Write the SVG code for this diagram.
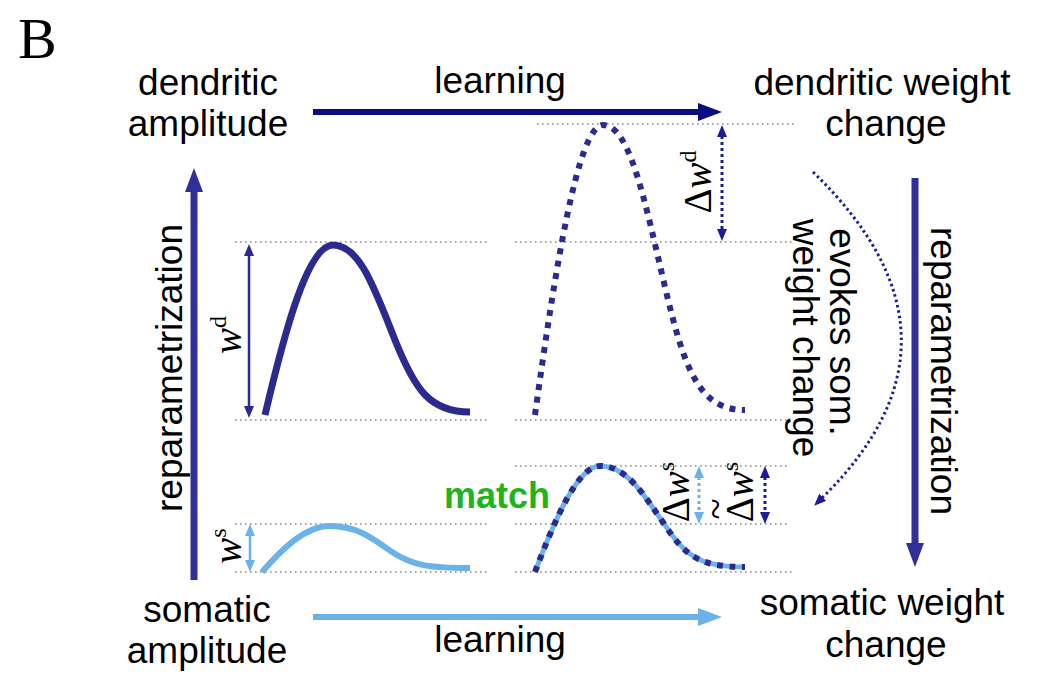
<svg xmlns="http://www.w3.org/2000/svg" width="1043" height="682" viewBox="0 0 1043 682">
<style>
.lbl{font-family:"Liberation Sans",Arial,sans-serif;font-size:37px;fill:#000;text-anchor:middle}
.math{font-family:"Liberation Serif","Times New Roman",serif;font-size:39px;fill:#000;text-anchor:middle}
.it{font-style:italic}
.guide{stroke:#8a8a8a;stroke-width:1.6;stroke-dasharray:1.6 3.4;fill:none}
.curve{fill:none;stroke-linecap:butt;stroke-linejoin:round}
</style>
<defs>
<marker id="hNavy" markerUnits="userSpaceOnUse" viewBox="0 0 24 18" refX="2" refY="9" markerWidth="24" markerHeight="18" orient="auto"><path d="M0,0 L24,9 L0,18 z" fill="#0b0b80"/></marker>
<marker id="hLight" markerUnits="userSpaceOnUse" viewBox="0 0 24 18" refX="2" refY="9" markerWidth="24" markerHeight="18" orient="auto"><path d="M0,0 L24,9 L0,18 z" fill="#6ab2e8"/></marker>
<marker id="hMid" markerUnits="userSpaceOnUse" viewBox="0 0 24 18" refX="2" refY="9" markerWidth="24" markerHeight="18" orient="auto"><path d="M0,0 L24,9 L0,18 z" fill="#30309a"/></marker>
<marker id="sMid" markerUnits="userSpaceOnUse" viewBox="0 0 12 10" refX="1" refY="5" markerWidth="12" markerHeight="10" orient="auto-start-reverse"><path d="M0,0 L12,5 L0,10 z" fill="#2b2b8f"/></marker>
<marker id="sNavy" markerUnits="userSpaceOnUse" viewBox="0 0 12 10" refX="1" refY="5" markerWidth="12" markerHeight="10" orient="auto-start-reverse"><path d="M0,0 L12,5 L0,10 z" fill="#1c1c96"/></marker>
<marker id="sLight" markerUnits="userSpaceOnUse" viewBox="0 0 12 10" refX="1" refY="5" markerWidth="12" markerHeight="10" orient="auto-start-reverse"><path d="M0,0 L12,5 L0,10 z" fill="#6ab2e8"/></marker>
</defs>
<rect width="1043" height="682" fill="#fff"/>

<text x="18" y="58" font-family="Liberation Serif,'Times New Roman',serif" font-size="58" fill="#000">B</text>

<g id="guides">
<line class="guide" x1="537" y1="124" x2="795" y2="124"/>
<line class="guide" x1="235" y1="242" x2="490" y2="242"/>
<line class="guide" x1="515" y1="242" x2="795" y2="242"/>
<line class="guide" x1="235" y1="420" x2="490" y2="420"/>
<line class="guide" x1="515" y1="420" x2="790" y2="420"/>
<line class="guide" x1="515" y1="466" x2="790" y2="466"/>
<line class="guide" x1="235" y1="524" x2="490" y2="524"/>
<line class="guide" x1="515" y1="524" x2="790" y2="524"/>
<line class="guide" x1="235" y1="572" x2="490" y2="572"/>
<line class="guide" x1="515" y1="572" x2="795" y2="572"/>
</g>

<g id="node-dendritic-amplitude">
<text class="lbl" x="208" y="95">dendritic</text>
<text class="lbl" x="208" y="136">amplitude</text>
</g>
<g id="node-dendritic-weight-change">
<text class="lbl" x="882" y="95">dendritic weight</text>
<text class="lbl" x="886" y="136">change</text>
</g>
<g id="node-somatic-amplitude">
<text class="lbl" x="207" y="622">somatic</text>
<text class="lbl" x="207" y="663">amplitude</text>
</g>
<g id="node-somatic-weight-change">
<text class="lbl" x="882" y="615">somatic weight</text>
<text class="lbl" x="886" y="657">change</text>
</g>

<g id="curve-dendritic">
<path class="curve" stroke="#2b2b8f" stroke-width="7" d="M265,415 C285,330 308,245 333,245 C360,245 375,290 395,340 C415,390 430,412 470,412"/>
<line x1="249" y1="255" x2="249" y2="407" stroke="#2b2b8f" stroke-width="2.5" marker-start="url(#sMid)" marker-end="url(#sMid)"/>
<text class="math" transform="translate(241,335) rotate(-90)"><tspan class="it">w</tspan><tspan dy="-15" font-size="24">d</tspan></text>
</g>

<g id="curve-somatic">
<path class="curve" stroke="#6ab2e8" stroke-width="6" d="M262,572 C282,549 305,526 330,526 C357,526 372,538 392,552 C412,565 427,568 470,568"/>
<line x1="250" y1="535" x2="250" y2="561" stroke="#6ab2e8" stroke-width="2.5" marker-start="url(#sLight)" marker-end="url(#sLight)"/>
<text class="math" transform="translate(241,546) rotate(-90)"><tspan class="it">w</tspan><tspan dy="-15" font-size="24">s</tspan></text>
</g>

<g id="curve-dendritic-change">
<path class="curve" stroke="#2b2b8f" stroke-width="6" stroke-dasharray="6 6.5" d="M535,415 C555,270 578,125 603,125 C630,125 645,202 665,287 C685,372 700,410 745,410"/>
<line x1="722" y1="136" x2="722" y2="230" stroke="#1c1c96" stroke-width="3" stroke-dasharray="3 3" marker-start="url(#sNavy)" marker-end="url(#sNavy)"/>
<text class="math" transform="translate(711,182) rotate(-90)">Δ<tspan class="it">w</tspan><tspan dy="-15" font-size="24">d</tspan></text>
</g>

<g id="curve-somatic-change">
<path class="curve" stroke="#6ab2e8" stroke-width="5" d="M535,572 C555,519 578,466 600,466 C627,466 643,494 665,525 C685,556 700,567 745,567"/>
<path class="curve" stroke="#2b2b8f" stroke-width="6" stroke-dasharray="6 6.5" d="M535,572 C555,519 578,466 600,466 C627,466 643,494 665,525 C685,556 700,567 745,567"/>
<line x1="699" y1="477" x2="699" y2="513" stroke="#6ab2e8" stroke-width="3" stroke-dasharray="3 3" marker-start="url(#sLight)" marker-end="url(#sLight)"/>
<line x1="765" y1="477" x2="765" y2="513" stroke="#1c1c96" stroke-width="3" stroke-dasharray="3 3" marker-start="url(#sNavy)" marker-end="url(#sNavy)"/>
<text class="math" transform="translate(689,492) rotate(-90)">Δ<tspan class="it">w</tspan><tspan dy="-15" font-size="24">s</tspan></text>
<text class="math" transform="translate(753,492) rotate(-90)">Δ<tspan class="it">w</tspan><tspan dy="-15" font-size="24">s</tspan></text>
<text class="math" transform="translate(729,509) rotate(-90)" font-size="22">~</text>
<text x="497" y="508" font-family="Liberation Sans,Arial,sans-serif" font-size="36" font-weight="bold" fill="#1db41d" text-anchor="middle">match</text>
</g>

<g id="connectors">
<line x1="313" y1="112" x2="700" y2="112" stroke="#0b0b80" stroke-width="6" marker-end="url(#hNavy)"/>
<line x1="313" y1="617" x2="700" y2="617" stroke="#6ab2e8" stroke-width="6" marker-end="url(#hLight)"/>
<line x1="194" y1="580" x2="194" y2="190" stroke="#30309a" stroke-width="7" marker-end="url(#hMid)"/>
<line x1="915" y1="178" x2="915" y2="545" stroke="#30309a" stroke-width="7" marker-end="url(#hMid)"/>
<path d="M813,172 Q985,338 822,498" fill="none" stroke="#1c1c96" stroke-width="3" stroke-dasharray="2.5 3" marker-end="url(#sNavy)"/>
<text class="lbl" x="500" y="93">learning</text>
<text class="lbl" x="500" y="652">learning</text>
<text class="lbl" transform="translate(182,368) rotate(-90)">reparametrization</text>
<text class="lbl" transform="translate(931,371) rotate(90)">reparametrization</text>
<text class="lbl" transform="translate(830,332) rotate(90)">evokes som.</text>
<text class="lbl" transform="translate(793,338) rotate(90)">weight change</text>
</g>
</svg>
